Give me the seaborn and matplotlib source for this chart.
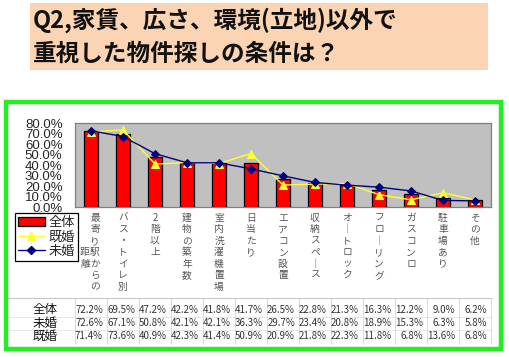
import matplotlib
matplotlib.use("Agg")
import matplotlib.pyplot as plt
import seaborn as sns
import numpy as np
import pandas as pd
from matplotlib.patches import Rectangle
from matplotlib.lines import Line2D

categories = ["最寄り駅からの距離", "バス・トイレ別", "2階以上", "建物の築年数",
              "室内洗濯機置場", "日当たり", "エアコン設置", "収納スペース",
              "オートロック", "フローリング", "ガスコンロ", "駐車場あり", "その他"]
zentai = [72.2, 69.5, 47.2, 42.2, 41.8, 41.7, 26.5, 22.8, 21.3, 16.3, 12.2, 9.0, 6.2]
mikon = [72.6, 67.1, 50.8, 42.1, 42.1, 36.3, 29.7, 23.4, 20.8, 18.9, 15.3, 6.3, 5.8]
kikon = [71.4, 73.6, 40.9, 42.3, 41.4, 50.9, 20.9, 21.8, 22.3, 11.8, 6.8, 13.6, 6.8]
y_ticks = [0, 10, 20, 30, 40, 50, 60, 70, 80]

sns.set_theme(style="white")
plt.rcParams["font.family"] = ["Noto Sans CJK JP", "DejaVu Sans"]

W, H = 510, 357
fig = plt.figure(figsize=(W / 100, H / 100), dpi=100)


def fx(px):
    return px / W


def fy(py):
    return 1 - py / H


# title box
fig.patches.append(Rectangle((fx(30), fy(70)), fx(458), 67 / H, transform=fig.transFigure,
                             facecolor="#FBD4B4", edgecolor="none", zorder=0))
fig.text(fx(33), fy(20), "Q2,家賃、広さ、環境(立地)以外で", fontsize=17, fontweight="bold",
         va="center", ha="left", color="#111111")
fig.text(fx(33), fy(54), "重視した物件探しの条件は？", fontsize=17, fontweight="bold",
         va="center", ha="left", color="#111111")

# green frame
fig.patches.append(Rectangle((fx(6), fy(349)), fx(495), 247 / H, transform=fig.transFigure,
                             facecolor="none", edgecolor="#22EE22", linewidth=3.2, zorder=5))

ax = fig.add_axes([fx(75), fy(207), fx(416), 84 / H])
ax.set_facecolor("#C0C0C0")
for s in ax.spines.values():
    s.set_color("#808080")
    s.set_linewidth(0.9)

x = np.arange(len(categories))
df = pd.DataFrame({"cat": categories, "全体": zentai, "既婚": kikon, "未婚": mikon, "x": x})
sns.barplot(data=df, x="cat", y="全体", ax=ax, color="#FF0000", width=0.44,
            edgecolor="black", linewidth=0.9, saturation=1, zorder=2)
sns.lineplot(data=df, x="x", y="既婚", ax=ax, color="#FFFF33", marker="^", markersize=6,
             markeredgecolor="#FFFF33", linewidth=1.0, zorder=3)
sns.lineplot(data=df, x="x", y="未婚", ax=ax, color="#000080", marker="D", markersize=4,
             markeredgecolor="#000080", linewidth=1.0, zorder=4)

ax.set_xlim(-0.5, len(categories) - 0.5)
ax.set_ylim(0, 80)
ax.set_yticks(y_ticks)
ax.set_yticklabels([f"{v:.1f}%" for v in y_ticks], family=["Liberation Sans"], fontsize=9.5)
ax.tick_params(axis="y", length=3, direction="out", pad=6, color="#606060")
ax.set_xticks(np.arange(len(categories) + 1) - 0.5, minor=True)
ax.set_xticks([])
ax.tick_params(axis="x", which="minor", length=3, direction="out", color="#606060")
ax.set_xlabel("")
ax.set_ylabel("")


# vertical category labels
def vertical(text):
    return "\n".join("｜" if c == "ー" else c for c in text)


for i, cat in enumerate(categories):
    cx = fx(75 + 32 * (i + 0.5))
    if i == 0:
        # first label wraps into two columns: main column right, "距離" left
        fig.text(fx(95), fy(213), vertical(cat[:7]), fontsize=7, color="#555555",
                 ha="center", va="top", linespacing=1.18)
        fig.text(fx(85), fy(213), "\u3000\n\u3000\n\u3000\n" + vertical(cat[7:]), fontsize=7,
                 color="#555555", ha="center", va="top", linespacing=1.18)
    else:
        fig.text(cx, fy(213), vertical(cat), fontsize=7, color="#555555", ha="center",
                 va="top", linespacing=1.18)

# legend
handles = [Rectangle((0, 0), 1, 1, facecolor="#FF0000", edgecolor="black", linewidth=0.9),
           Line2D([], [], color="#FFFF33", marker="^", markersize=6, linewidth=1.0),
           Line2D([], [], color="#000080", marker="D", markersize=4, linewidth=1.0)]
leg = ax.legend(handles, ["全体", "既婚", "未婚"], loc="upper left",
                bbox_to_anchor=(fx(15), fy(213)), bbox_transform=fig.transFigure,
                fancybox=False, framealpha=1, edgecolor="black", fontsize=9.5,
                handlelength=2.0, handletextpad=0.3, borderpad=0.25, labelspacing=0.1,
                borderaxespad=0)
leg.get_frame().set_linewidth(0.9)

# data table
row_names = ["全体", "未婚", "既婚"]
row_vals = [zentai, mikon, kikon]
row_y = [310, 323, 336]
fig.add_artist(Line2D([fx(8), fx(492)], [fy(298), fy(298)], color="#C8C8C8", linewidth=0.8))
fig.add_artist(Line2D([fx(8), fx(492)], [fy(317), fy(317)], color="#E4E4E4", linewidth=0.6))
fig.add_artist(Line2D([fx(8), fx(492)], [fy(330), fy(330)], color="#E4E4E4", linewidth=0.6))
for k in range(len(categories) + 1):
    bx = fx(75 + 32 * k)
    fig.add_artist(Line2D([bx, bx], [fy(298), fy(344)], color="#D4D4D4", linewidth=0.6))
for name, vals, yy in zip(row_names, row_vals, row_y):
    fig.text(fx(45), fy(yy), name, fontsize=9, ha="center", va="center", color="#111111")
    for i, v in enumerate(vals):
        fig.text(fx(75 + 32 * (i + 1) - 4), fy(yy), f"{v:.1f}%", fontsize=7, ha="right",
                 va="center", color="#333333")

fig.savefig("out.png", dpi=100)
